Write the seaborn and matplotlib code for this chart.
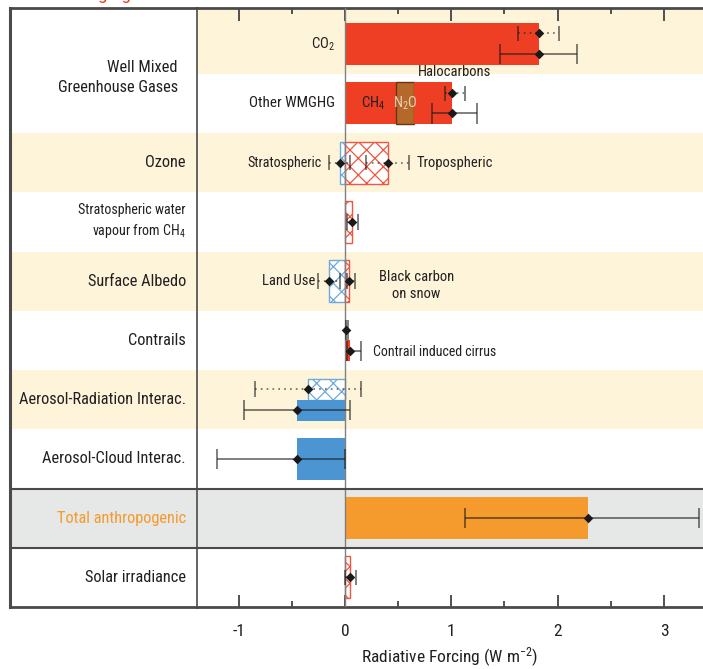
import numpy as np
import pandas as pd
import matplotlib
matplotlib.use("Agg")
import matplotlib.pyplot as plt
import seaborn as sns
from matplotlib import font_manager as fm

# ---------------------------------------------------------------- data
# Rows of the chart, top to bottom (row index = position on the y axis)
row_labels = ["Ozone", "Stratospheric water\nvapour from CH$_4$", "Surface Albedo",
              "Contrails", "Aerosol-Radiation Interac.", "Aerosol-Cloud Interac.",
              "Total anthropogenic", "Solar irradiance"]
row_label_rows = [2, 3, 4, 5, 6, 7, 8, 9]
group_label = "Well Mixed\nGreenhouse Gases"

# Best-estimate radiative forcing of each bar (W m-2)
bar_names = ["CO2", "CH4", "N2O", "Halocarbons", "Stratospheric O3", "Tropospheric O3",
             "Strat. H2O", "Land use", "BC on snow", "Contrails", "Contrail cirrus",
             "Aer-rad RF", "Aer-rad ERF", "Aer-cloud ERF", "Total", "Solar"]
bar_values = [1.82, 0.48, 0.17, 0.36, -0.05, 0.40,
              0.07, -0.15, 0.04, 0.01, 0.05,
              -0.35, -0.45, -0.45, 2.29, 0.05]

# Uncertainty ranges (best estimate, 5-95 % range)
err_names = ["CO2 RF", "CO2 ERF", "WMGHG RF", "WMGHG ERF", "Strat O3", "Trop O3",
             "Strat H2O", "Land use", "BC on snow", "Contrails", "Contrail cirrus",
             "Aer-rad RF", "Aer-rad ERF", "Aer-cloud ERF", "Total", "Solar"]
err_best = [1.82, 1.82, 1.01, 1.01, -0.05, 0.40, 0.07, -0.15, 0.04, 0.01, 0.05,
            -0.35, -0.45, -0.45, 2.29, 0.05]
err_low = [1.63, 1.46, 0.94, 0.82, -0.15, 0.20, 0.02, -0.25, 0.02, 0.005, 0.02,
           -0.85, -0.95, -1.20, 1.13, 0.00]
err_high = [2.01, 2.18, 1.13, 1.24, 0.05, 0.60, 0.12, -0.05, 0.09, 0.03, 0.15,
            0.15, 0.05, 0.00, 3.33, 0.10]

x_ticks = [-1, 0, 1, 2, 3]
x_tick_labels = ["-1", "0", "1", "2", "3"]

# ---------------------------------------------------------------- style
RED = "#EE3E24"
RED_H = "#F0553F"
BROWN = "#B4692A"
BLUE = "#4B96D2"
BLUE_H = "#6EAADC"
ORANGE = "#F59B2D"
BEIGE = "#FDF4DA"
GREY = "#E6E7E7"
INK = "#231F20"
FRAME = "#4A4A4A"

# a narrow sans-serif face for all text
installed = {f.name for f in fm.fontManager.ttflist}
candidates = ["Nimbus Sans Narrow", "Liberation Sans Narrow", "Arial Narrow",
              "Roboto Condensed", "Archivo Narrow", "PT Sans Narrow",
              "IBM Plex Sans Condensed", "Fira Sans Condensed", "Encode Sans Condensed",
              "Asap Condensed", "Liberation Sans"]
NARROW = next((c for c in candidates if c in installed), "DejaVu Sans")

sns.set_theme(style="white")
plt.rcParams["font.family"] = [NARROW, "DejaVu Sans"]
plt.rcParams["mathtext.fontset"] = "custom"
plt.rcParams["mathtext.rm"] = NARROW
plt.rcParams["mathtext.it"] = NARROW + ":italic"
plt.rcParams["mathtext.default"] = "rm"
plt.rcParams["axes.unicode_minus"] = False
plt.rcParams["hatch.linewidth"] = 0.9

# placement of every bar: (row, slot, hatched, colour)
FULL, UP, LOW = 0.71, 0.355, 0.355
bar_layout = {
    "CO2": (0, "full", False, RED),
    "CH4": (1, "full", False, RED),
    "N2O": (1, "full", False, BROWN),
    "Halocarbons": (1, "full", False, RED),
    "Stratospheric O3": (2, "full", True, BLUE_H),
    "Tropospheric O3": (2, "full", True, RED_H),
    "Strat. H2O": (3, "full", True, RED_H),
    "Land use": (4, "full", True, BLUE_H),
    "BC on snow": (4, "full", True, RED_H),
    "Contrails": (5, "up", False, RED),
    "Contrail cirrus": (5, "low", False, RED),
    "Aer-rad RF": (6, "up", True, BLUE_H),
    "Aer-rad ERF": (6, "low", False, BLUE),
    "Aer-cloud ERF": (7, "full", False, BLUE),
    "Total": (8, "full", False, ORANGE),
    "Solar": (9, "full", True, RED_H),
}
stacked = ["CH4", "N2O", "Halocarbons"]

# placement of every uncertainty bar: (row, vertical offset, dotted?)
err_layout = {
    "CO2 RF": (0, -0.18, True), "CO2 ERF": (0, 0.17, False),
    "WMGHG RF": (1, -0.17, True), "WMGHG ERF": (1, 0.17, False),
    "Strat O3": (2, 0.0, True), "Trop O3": (2, 0.0, True),
    "Strat H2O": (3, 0.0, True),
    "Land use": (4, 0.0, True), "BC on snow": (4, 0.0, True),
    "Contrails": (5, -0.18, False), "Contrail cirrus": (5, 0.18, False),
    "Aer-rad RF": (6, -0.18, True), "Aer-rad ERF": (6, 0.18, False),
    "Aer-cloud ERF": (7, 0.0, False), "Total": (8, 0.0, False),
    "Solar": (9, 0.0, True),
}

# ---------------------------------------------------------------- figure
W, H = 703, 669
fig = plt.figure(figsize=(W / 100, H / 100), dpi=100)


def box(x0, y0, x1, y1):
    return [x0 / W, 1 - y1 / H, (x1 - x0) / W, (y1 - y0) / H]


ax_l = fig.add_axes(box(10, 8, 197, 607))
ax = fig.add_axes(box(197, 8, 703, 607))
YLIM = (9.5, -0.61)
for a in (ax_l, ax):
    a.set_ylim(*YLIM)
    a.set_facecolor("white")
ax_l.set_xlim(0, 187)
ax.set_xlim(-1.392, 3.367)

# row shading
for a, spans in ((ax, [(-0.61, 0.5), (1.5, 2.5), (3.5, 4.5), (5.5, 6.5)]),
                 (ax_l, [(1.5, 2.5), (3.5, 4.5), (5.5, 6.5)])):
    for y0, y1 in spans:
        a.axhspan(y0, y1, color=BEIGE, lw=0, zorder=0)
    a.axhspan(7.5, 8.5, color=GREY, lw=0, zorder=0)
    for y in (7.5, 8.5):
        a.axhline(y, color=FRAME, lw=1.5, zorder=5)

# bars
base = 0.0
for name, val in zip(bar_names, bar_values):
    row, slot, hatched, col = bar_layout[name]
    if slot == "full":
        yc, h = row, FULL
    elif slot == "up":
        yc, h = row - UP / 2, UP
    else:
        yc, h = row + LOW / 2, LOW
    left = 0.0
    if name in stacked:
        left = base
        base += val
    if hatched:
        ax.barh(yc, val, left=left, height=h, facecolor="white", edgecolor=col,
                hatch="xx", lw=1.0, zorder=2)
    else:
        ec = "#6B3410" if name == "N2O" else col
        lw = 1.0 if name == "N2O" else 0
        ax.barh(yc, val, left=left, height=h, color=col, edgecolor=ec, lw=lw, zorder=2)

ax.axvline(0, color="#808080", lw=1.0, zorder=3)

# uncertainty ranges
pts = []
for name, b, lo, hi in zip(err_names, err_best, err_low, err_high):
    row, off, dotted = err_layout[name]
    y = row + off
    ls = (0, (1, 2.5)) if dotted else "-"
    cap = 0.13 if dotted else 0.17
    ax.hlines(y, lo, hi, colors="k", linestyles=ls, lw=1.2, alpha=0.65, zorder=4)
    ax.vlines([lo, hi], y - cap, y + cap, colors="k", lw=1.2, alpha=0.65, zorder=4)
    pts.append((b, y))
pts = pd.DataFrame(pts, columns=["forcing", "pos"])
sns.scatterplot(data=pts, x="forcing", y="pos", marker="D", s=24, color="k",
                edgecolor="k", linewidth=0, zorder=6, ax=ax, legend=False)

# axis styling
for a in (ax, ax_l):
    a.spines["right"].set_visible(False)
    for s in ("top", "bottom"):
        a.spines[s].set_color(FRAME)
        a.spines[s].set_linewidth(2.0)
ax.spines["left"].set_color(FRAME)
ax.spines["left"].set_linewidth(1.2)
ax_l.spines["left"].set_color(FRAME)
ax_l.spines["left"].set_linewidth(2.2)
ax_l.set_xticks([])
ax_l.set_yticks([])
ax.set_yticks([])
ax.set_ylabel("")
ax.set_xticks(x_ticks)
ax.set_xticklabels(x_tick_labels)
ax.set_xticks(np.arange(-1, 3.5, 0.5), minor=True)
ax.tick_params(axis="x", which="both", direction="in", top=True, bottom=True,
               color="#333333", width=1.2)
ax.tick_params(axis="x", which="major", length=9, pad=12, labelsize=12.5, labelcolor=INK)
ax.tick_params(axis="x", which="minor", length=4)
ax.set_xlabel("Radiative Forcing (W m$^{-2}$)", fontsize=12.5, color=INK, labelpad=5)

# row labels
for lab, r in zip(row_labels, row_label_rows):
    small = "\n" in lab
    col = ORANGE if lab.startswith("Total") else INK
    ax_l.text(176, r, lab, ha="right", va="center", fontsize=10.1 if small else 11.8,
              color=col, linespacing=1.4)
ax_l.text(168, 0.56, group_label, ha="right", va="center", fontsize=11.8, color=INK,
          linespacing=1.38)

# annotations inside the plotting area
fs = 10.5
ax.text(-0.094, 0.0, "CO$_2$", ha="right", va="center", fontsize=fs, color=INK)
ax.text(-0.094, 1.0, "Other WMGHG", ha="right", va="center", fontsize=10.9, color=INK)
ax.text(1.03, 0.47, "Halocarbons", ha="center", va="center", fontsize=fs, color=INK)
ax.text(0.26, 1.0, "CH$_4$", ha="center", va="center", fontsize=fs, color=INK)
ax.text(0.565, 1.0, "N$_2$O", ha="center", va="center", fontsize=fs, color="#EBD3B5")
ax.text(-0.22, 2.0, "Stratospheric", ha="right", va="center", fontsize=10.2, color=INK)
ax.text(0.67, 2.0, "Tropospheric", ha="left", va="center", fontsize=fs, color=INK)
ax.text(-0.28, 4.0, "Land Use", ha="right", va="center", fontsize=fs, color=INK)
ax.text(0.67, 4.07, "Black carbon\non snow", ha="center", va="center", fontsize=fs,
        color=INK, linespacing=1.3)
ax.text(0.26, 5.19, "Contrail induced cirrus", ha="left", va="center", fontsize=10.0,
        color=INK)

# heading of the label column (sits mostly above the canvas)
fig.text(103 / W, 1 + 1.5 / H, "Forcing agent", ha="center", va="baseline",
         fontsize=14, color=RED)

fig.savefig("out.png", dpi=100)
